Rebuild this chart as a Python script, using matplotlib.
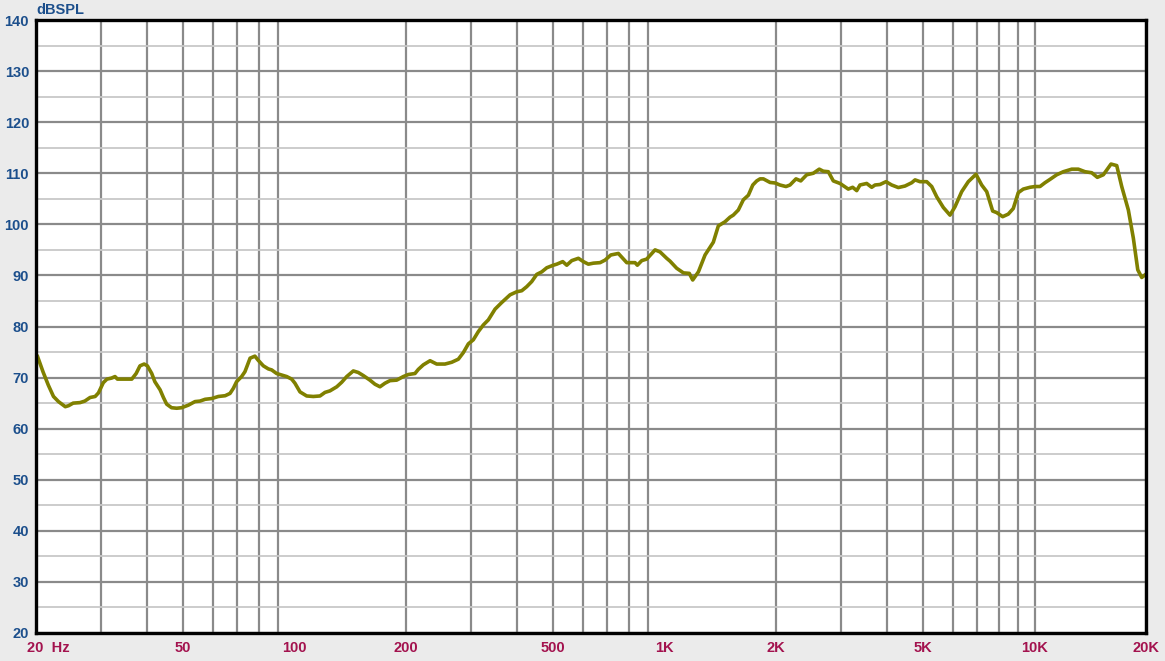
import numpy as np
import matplotlib.pyplot as plt
from matplotlib.ticker import FixedLocator, NullFormatter

plt.rcParams['font.family'] = ['Liberation Sans', 'DejaVu Sans']

# frequency response (Hz, dB SPL)
freq = [20.2, 20.9, 21.6, 22.3, 23.0, 24.0, 24.5, 25.2, 26.3, 27.1, 28.0, 28.9, 29.5,
        30.4, 31.1, 32.0, 32.7, 33.2, 34.8, 36.3, 37.3, 38.2, 39.2, 40.0, 41.1, 41.9,
        43.3, 44.2, 45.1, 46.5, 48.0, 49.5, 51.6, 53.8, 55.5, 57.3, 59.7, 62.2, 64.9,
        66.9, 68.3, 69.7, 71.9, 73.4, 75.8, 78.1, 79.7, 82.3, 84.9, 86.7, 89.4, 92.3,
        95.2, 98.2, 100.2, 103.4, 107.8, 112.3, 117.1, 120.8, 124.6, 130.0, 134.1,
        138.3, 144.1, 148.6, 153.3, 159.8, 164.9, 170.1, 175.5, 181.0, 188.7, 196.7,
        202.9, 211.5, 215.9, 222.8, 232.3, 242.1, 254.9, 265.8, 277.0, 285.8, 294.8,
        304.1, 313.7, 323.6, 333.9, 348.1, 362.9, 382.2, 398.4, 411.0, 424.0, 437.4,
        451.2, 465.6, 480.3, 500.3, 511.0, 530.5, 543.9, 561.1, 584.7, 603.2, 622.2,
        641.9, 669.3, 690.4, 715.4, 749.9, 790.0, 831.9, 843.9, 867.4, 894.8, 942.3,
        972.0, 1013, 1034, 1078, 1124, 1166, 1191, 1234, 1286, 1354, 1397, 1456, 1502,
        1533, 1582, 1632, 1684, 1731, 1774, 1811, 1849, 1927, 1988, 2050, 2128, 2182,
        2265, 2333, 2421, 2523, 2618, 2684, 2770, 2857, 2979, 3136, 3223, 3305, 3373,
        3517, 3628, 3704, 3821, 3966, 4109, 4282, 4464, 4655, 4752, 4901, 5109, 5271,
        5437, 5666, 5906, 6093, 6352, 6618, 6943, 7193, 7422, 7703, 7897, 8197, 8487,
        8756, 9033, 9318, 9715, 10024, 10340, 10667, 11005, 11473, 11957, 12600, 13124,
        13683, 14266, 14773, 15334, 16087, 16670, 17196, 17920, 18485, 19000, 19478,
        19877]
spl = [74.1, 71.1, 68.5, 66.3, 65.3, 64.3, 64.5, 65.0, 65.1, 65.4, 66.1, 66.3, 67.0,
       69.0, 69.7, 69.9, 70.2, 69.7, 69.7, 69.7, 70.8, 72.3, 72.65, 72.3, 70.8, 69.2,
       67.6, 66.1, 64.8, 64.1, 64.0, 64.1, 64.6, 65.3, 65.4, 65.75, 65.9, 66.3, 66.45,
       66.9, 67.9, 69.2, 70.2, 71.15, 73.8, 74.2, 73.4, 72.3, 71.7, 71.5, 70.8, 70.5,
       70.2, 69.7, 68.9, 67.2, 66.4, 66.3, 66.4, 67.1, 67.4, 68.2, 69.1,
       70.2, 71.3, 71.0, 70.4, 69.5, 68.7, 68.2, 68.9, 69.4, 69.5, 70.2,
       70.6, 70.8, 71.6, 72.5, 73.3, 72.65, 72.65, 73.0, 73.6, 74.9, 76.6,
       77.4, 79.0, 80.3, 81.3, 83.4, 84.7, 86.2, 86.8, 87.0, 87.8, 88.8,
       90.2, 90.7, 91.5, 92.0, 92.2, 92.7, 92.0, 92.9, 93.35, 92.7, 92.2,
       92.4, 92.5, 93.0, 94.0, 94.3, 92.5, 92.5, 92.0, 92.9, 93.2, 95.0,
       94.6, 93.35, 92.8, 91.4, 90.5, 90.4, 89.1, 90.7, 94.0, 96.5, 99.7, 100.5, 101.4,
       101.8, 102.8, 104.8, 105.7, 107.7, 108.5, 108.9, 108.9, 108.2, 108.1, 107.7, 107.4, 107.7,
       108.9, 108.5, 109.7, 110.0, 110.8, 110.4, 110.3, 108.5, 108.0, 106.9, 107.25, 106.6, 107.7,
       108.0, 107.25, 107.7, 107.8, 108.35, 107.7, 107.2, 107.5, 108.15, 108.7, 108.35, 108.35, 107.4,
       105.4, 103.3, 101.8, 103.45, 106.4, 108.35, 109.8, 107.7, 106.4, 102.6, 102.3, 101.5, 102.0,
       103.1, 106.2, 106.9, 107.25, 107.4, 107.4, 108.15, 108.8, 109.7, 110.3, 110.8, 110.8,
       110.3, 110.1, 109.2, 109.7, 111.8, 111.5, 107.4, 102.8, 97.3, 91.1, 89.6,
       90.1]

grid_freqs = [m * 10 ** e for e in (1, 2, 3) for m in range(2, 10)] + [10000, 20000]
label_freqs = [20, 50, 100, 200, 500, 1000, 2000, 5000, 10000, 20000]
label_texts = ['20  Hz', '50', '100', '200', '500', '1K', '2K', '5K', '10K', '20K']
y_major = list(range(20, 141, 10))
y_minor = list(range(25, 140, 10))

blue = '#1c4f8c'
red = '#a3124e'

fig = plt.figure(figsize=(11.65, 6.61), dpi=100, facecolor='#ebebeb')
ax = fig.add_axes([36 / 1165, 1 - 633 / 661, 1110 / 1165, 613 / 661])
ax.set_facecolor('white')
ax.set_xscale('log')
ax.set_xlim(20, 20000)
ax.set_ylim(20, 140)

for f in grid_freqs:
    ax.axvline(f, color='#8a8a8a', lw=1.6, zorder=1)
for v in y_minor:
    ax.axhline(v, color='#c8c8c8', lw=1.3, zorder=1)
for v in y_major:
    ax.axhline(v, color='#8a8a8a', lw=1.6, zorder=1)

ax.plot(freq, spl, color='#808000', lw=2.6, zorder=3, solid_joinstyle='round')

ax.xaxis.set_major_locator(FixedLocator([]))
ax.xaxis.set_minor_locator(FixedLocator([]))
ax.xaxis.set_minor_formatter(NullFormatter())
ax.set_yticks(y_major)
ax.set_yticklabels([str(v) for v in y_major])
ax.tick_params(axis='y', length=0, pad=5, labelcolor=blue, labelsize=10.5)
for lab in ax.get_yticklabels():
    lab.set_fontweight('bold')

for f, t in zip(label_freqs, label_texts):
    ha = 'left' if f == 20 else 'center'
    xx = 18.9 if f == 20 else f
    ax.text(xx, -0.025, t, transform=ax.get_xaxis_transform(), ha=ha, va='center',
            color=red, fontsize=10.5, fontweight='bold')

ax.text(0.0, 1.016, 'dBSPL', transform=ax.transAxes, ha='left', va='center',
        color=blue, fontsize=10.5, fontweight='bold')

for s in ax.spines.values():
    s.set_color('black')
    s.set_linewidth(2.4)
    s.set_zorder(4)

fig.savefig('out.png', dpi=100, facecolor=fig.get_facecolor())
